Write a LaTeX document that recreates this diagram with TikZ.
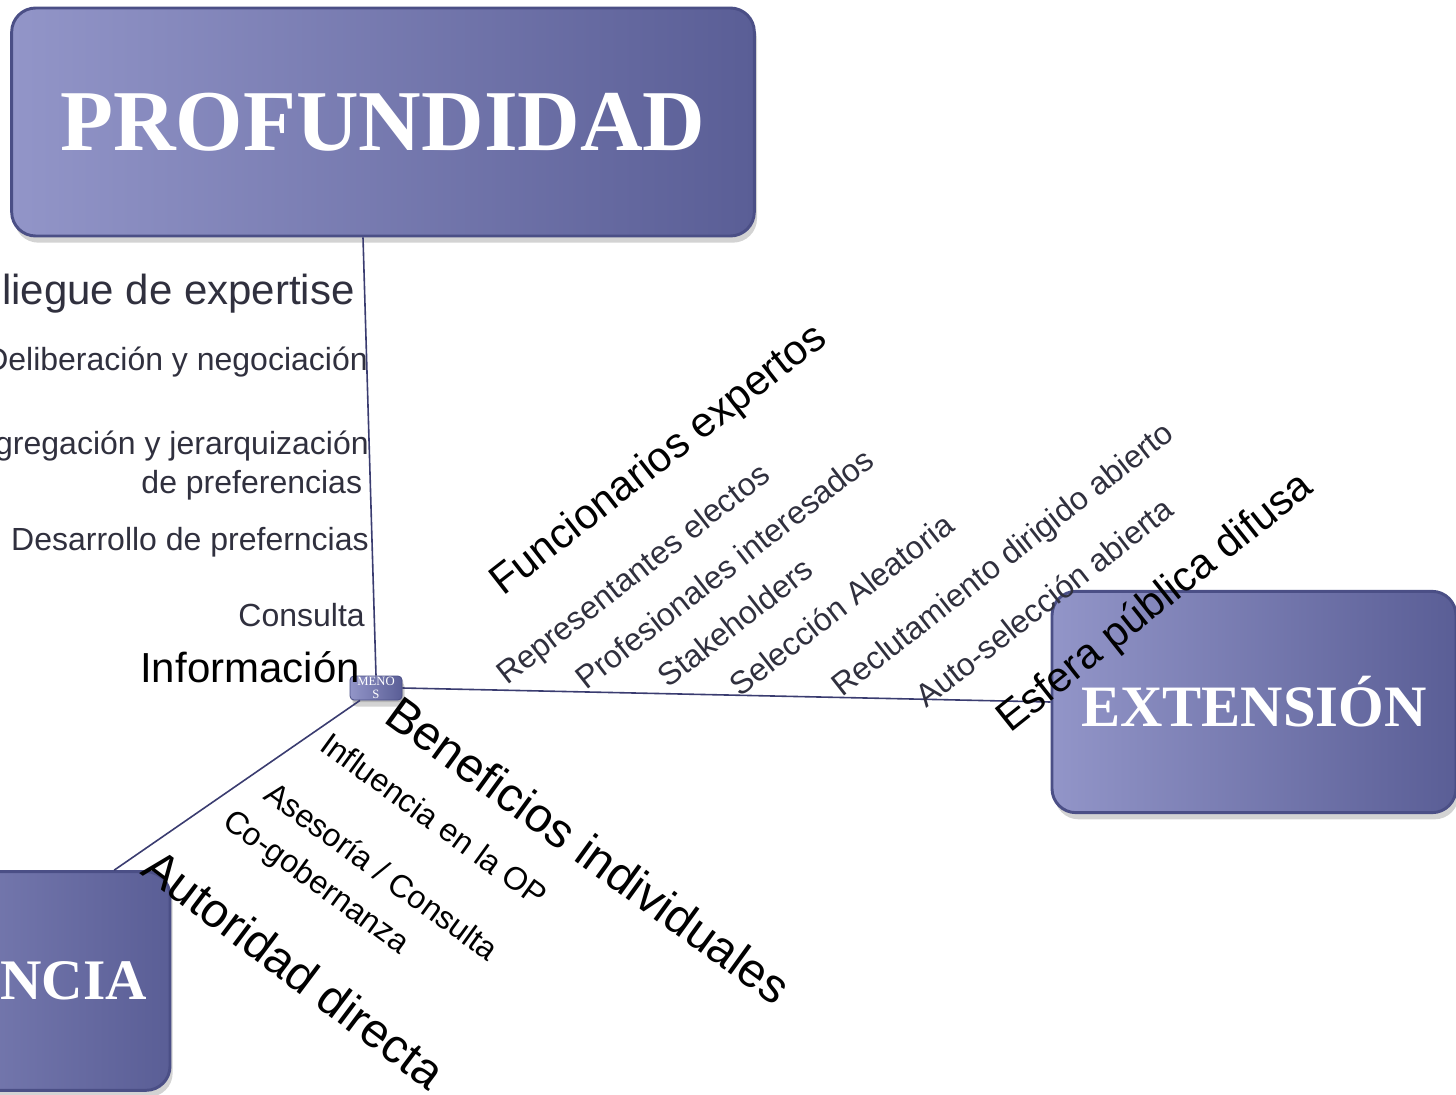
\documentclass[tikz,border=0pt]{standalone}
\usepackage{fontspec}
\setmainfont{Liberation Sans}
\newfontfamily\boxfont{Liberation Serif}
\usetikzlibrary{shadows}
\definecolor{boxlight}{HTML}{9295C8}
\definecolor{boxdark}{HTML}{5A5E96}
\definecolor{boxrim}{HTML}{4B4F86}
\definecolor{linkblue}{HTML}{3A3C70}
\definecolor{labelgray}{HTML}{30303E}

\begin{document}
\begin{tikzpicture}[x=0.75pt,y=-0.75pt,
    bigbox/.style={rounded corners=18pt, left color=boxlight, right color=boxdark,
      draw=boxrim, line width=2.2pt, text=white, inner sep=0pt,
      drop shadow={shadow xshift=2pt, shadow yshift=-5pt, opacity=0.35}},
    link/.style={draw=linkblue, line width=1.2pt},
    small/.style={font=\fontsize{24}{29}\selectfont, inner sep=0pt},
    large/.style={font=\fontsize{31.5}{38}\selectfont, inner sep=0pt},
    huge/.style={font=\fontsize{36}{43}\selectfont, inner sep=0pt}]
    \useasboundingbox (0,0) rectangle (1456,1095);
    \clip (0,0) rectangle (1456,1095);

    % the three boxes and the centre
    \node[bigbox, minimum width=557pt, minimum height=171pt,
      font=\boxfont\bfseries\fontsize{65}{70}\selectfont] (prof) at (383,122) {PROFUNDIDAD};
    \node[bigbox, minimum width=303pt, minimum height=166pt,
      font=\boxfont\bfseries\fontsize{44}{50}\selectfont] (ext) at (1254,702) {EXTENSIÓN};
    \node[bigbox, minimum width=303pt, minimum height=164pt,
      font=\boxfont\bfseries\fontsize{43}{50}\selectfont] (infl) at (-32,981) {INFLUENCIA\hspace*{4pt}};
    \node[bigbox, rounded corners=3pt, line width=0.6pt, minimum width=39pt, minimum height=18pt,
      align=center, font=\boxfont\fontsize{9.5}{9.5}\selectfont,
      drop shadow={shadow xshift=1pt, shadow yshift=-1.5pt, opacity=0.35}] (menos) at (376,688) {MENO\\S};

    \draw[link] ([xshift=-15pt]prof.south) -- (menos.north);
    \draw[link] (menos.east) -- (ext.west);
    \draw[link] ([xshift=-12pt]menos.south) -- ([xshift=-43pt]infl.north east);

    % profundidad
    \node[large, text=labelgray, anchor=base east] (desp) at (355,304) {Despliegue de expertise};
    \node[small, text=labelgray, anchor=base east] (delib) at (368,370) {Deliberación y negociación};
    \node[small, text=labelgray, anchor=base east, align=right] (agreg) at (369,493)
      {Agregación y jerarquización\\de preferencias\hspace*{5pt}};
    \node[small, text=labelgray, anchor=base east] (desa) at (369,550) {Desarrollo de preferncias};
    \node[small, text=labelgray, anchor=base east] (cons) at (365,626) {Consulta};
    \node[large, anchor=base east] (info) at (360,682) {Información};

    % extension
    \node[large, rotate=38, anchor=base west] (func) at (503,597) {Funcionarios expertos};
    \node[small, text=labelgray, rotate=38, anchor=base west] (repr) at (507,686) {Representantes electos};
    \node[small, text=labelgray, rotate=38, anchor=base west] (profe) at (586,691) {Profesionales interesados};
    \node[small, text=labelgray, rotate=38, anchor=base west] (stake) at (668,689) {Stakeholders};
    \node[small, text=labelgray, rotate=38, anchor=base west] (selec) at (740,698) {Selección Aleatoria};
    \node[small, text=labelgray, rotate=38, anchor=base west] (reclu) at (842,698) {Reclutamiento dirigido abierto};
    \node[small, text=labelgray, rotate=38, anchor=base west] (auto) at (926,709) {Auto-selección abierta};
    \node[large, rotate=38.5, anchor=base west] (esfera) at (1010,734) {Esfera pública difusa};

    % influencia
    \node[huge, rotate=-36, anchor=base west] (benef) at (382,721) {Beneficios individuales};
    \node[small, rotate=-36, anchor=base west] (inop) at (318,749) {Influencia en la OP};
    \node[small, rotate=-36, anchor=base west] (ases) at (262,798) {Asesoría / Consulta};
    \node[small, rotate=-36, anchor=base west] (cogob) at (221,825) {Co-gobernanza};
    \node[huge, rotate=-37, anchor=base west] (autor) at (139,873) {Autoridad directa};
\end{tikzpicture}
\end{document}
